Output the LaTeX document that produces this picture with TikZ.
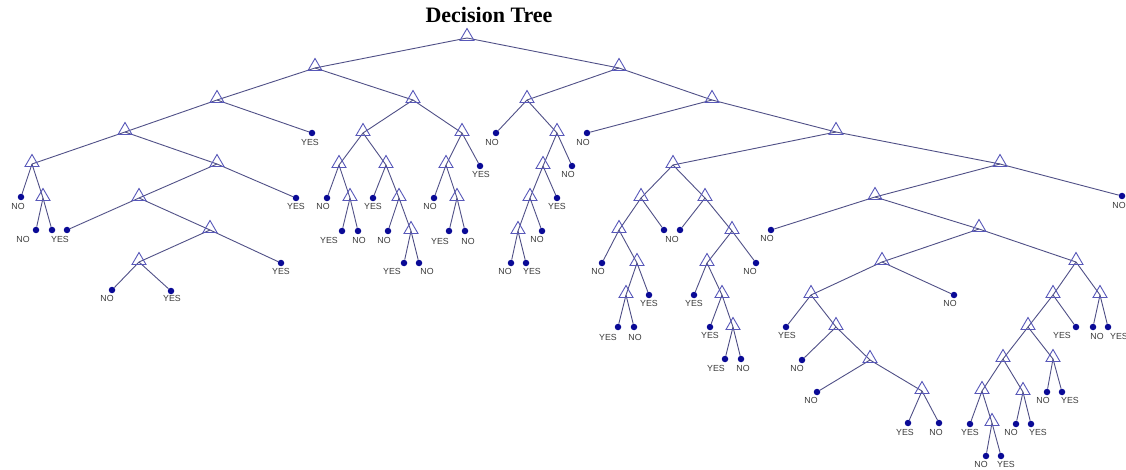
\documentclass[tikz,border=0pt]{standalone}
\usepackage{fontspec}
\setmainfont{Liberation Serif}
\newfontfamily\labfont{Liberation Sans}
\definecolor{edgecol}{RGB}{80,80,135}
\definecolor{tricol}{RGB}{88,88,185}
\definecolor{dotcol}{RGB}{10,10,150}
\definecolor{labcol}{RGB}{60,60,60}
\tikzset{
  inner/.style={coordinate},
  leaf/.style={circle,fill=dotcol,draw=none,inner sep=0pt,minimum size=6.5pt},
  lab/.style={inner sep=0pt,text=labcol,font=\labfont\fontsize{8.8}{9}\selectfont},
  edge/.style={draw=edgecol,line width=0.9pt},
  tri/.style={draw=tricol,line width=0.9pt,line join=miter},
}
\begin{document}
\begin{tikzpicture}[x=1pt,y=-1pt]
\useasboundingbox (0,0) rectangle (1126,470);
\fill[white] (0,0) rectangle (1126,470);
\node (title) at (489,15) {\fontsize{22}{24}\selectfont\bfseries Decision Tree};
% internal nodes
\foreach \n/\x/\y in {
 r/467/38, a/315/68, b/619/68,
 a1/217/100, a2/413/100, a11/125/132, a111/32/164, a112/217/164,
 a1112/43/198, a1121/139/198, a11212/210/230, a112121/139/262,
 a21/363/133, a22/462/133, a211/339/165, a212/386/165, a2112/350/198,
 a2122/399/198, a21222/411/231, a221/446/165, a2212/457/198,
 b1/527/100, b2/712/100, b12/557/133, b121/543/166, b1211/530/198, b12111/518/231,
 b22/836/132, b221/673/165, b222/1000/164, b2211/641/198, b2212/705/198,
 b22111/619/230, b221112/637/263, b2211121/626/295,
 b22122/732/231, b221221/707/263, b2212212/722/295, b22122122/733/327,
 b2221/875/197, b22212/979/229, b222121/882/262, b2221211/811/295,
 b22212112/836/327, b222121122/870/360, b2221211222/922/391,
 b222122/1076/262, c1/1053/295, c2/1100/295, c11/1028/327,
 c111/1003/359, c112/1053/359, c1111/982/391, c1112/1023/392, c11112/992/423}
 {\node[inner] (\n) at (\x,\y) {};}
% leaves
\foreach \n/\x/\y in {
 la1/312/133, la111/21/197, la1112a/36/230, la1112b/52/230, la1121/67/230,
 la112/296/198, la11212/281/263, la112121a/112/290, la112121b/171/291,
 la211/327/198, la2112a/342/231, la2112b/358/231, la212/373/198,
 la2122/388/231, la21222a/404/263, la21222b/419/263, la22/480/166,
 la221/434/198, la2212a/449/231, la2212b/465/231,
 lb1/496/133, lb12/572/166, lb121/557/198, lb1211/542/231,
 lb12111a/511/263, lb12111b/526/263, lb2/587/133,
 lb2211/664/230, lb2212/680/230, lb22111/602/263, lb221112/649/295,
 lb2211121a/618/327, lb2211121b/634/327, lb22122/756/263,
 lb221221/694/295, lb2212212/710/327, lb22122122a/725/359, lb22122122b/741/359,
 lb222/1122/196, lb2221/771/230, lb222121/954/295, lb2221211/786/327,
 lb22212112/802/360, lb222121122/817/392, lb2221211222a/908/423, lb2221211222b/939/423,
 lc2a/1093/327, lc2b/1108/327, lc1/1076/327, lc112a/1047/392, lc112b/1062/392,
 lc1111/970/424, lc11112a/986/456, lc11112b/1001/456, lc1112a/1016/424, lc1112b/1031/424}
 {\node[leaf] (\n) at (\x,\y) {};}
% edges
\foreach \p/\c in {
 r/a, r/b, a/a1, a/a2, a1/a11, a1/la1, a11/a111, a11/a112,
 a111/la111, a111/a1112, a1112/la1112a, a1112/la1112b,
 a112/a1121, a112/la112, a1121/la1121, a1121/a11212,
 a11212/a112121, a11212/la11212, a112121/la112121a, a112121/la112121b,
 a2/a21, a2/a22, a21/a211, a21/a212, a211/la211, a211/a2112,
 a2112/la2112a, a2112/la2112b, a212/la212, a212/a2122,
 a2122/la2122, a2122/a21222, a21222/la21222a, a21222/la21222b,
 a22/a221, a22/la22, a221/la221, a221/a2212, a2212/la2212a, a2212/la2212b,
 b/b1, b/b2, b1/lb1, b1/b12, b12/b121, b12/lb12, b121/b1211, b121/lb121,
 b1211/b12111, b1211/lb1211, b12111/lb12111a, b12111/lb12111b,
 b2/lb2, b2/b22, b22/b221, b22/b222, b221/b2211, b221/b2212,
 b2211/b22111, b2211/lb2211, b2212/lb2212, b2212/b22122,
 b22111/lb22111, b22111/b221112, b221112/b2211121, b221112/lb221112,
 b2211121/lb2211121a, b2211121/lb2211121b,
 b22122/b221221, b22122/lb22122, b221221/lb221221, b221221/b2212212,
 b2212212/lb2212212, b2212212/b22122122, b22122122/lb22122122a, b22122122/lb22122122b,
 b222/b2221, b222/lb222, b2221/lb2221, b2221/b22212,
 b22212/b222121, b22212/b222122, b222121/b2221211, b222121/lb222121,
 b2221211/lb2221211, b2221211/b22212112, b22212112/lb22212112, b22212112/b222121122,
 b222121122/lb222121122, b222121122/b2221211222,
 b2221211222/lb2221211222a, b2221211222/lb2221211222b,
 b222122/c1, b222122/c2, c2/lc2a, c2/lc2b, c1/c11, c1/lc1,
 c11/c111, c11/c112, c112/lc112a, c112/lc112b, c111/c1111, c111/c1112,
 c1111/lc1111, c1111/c11112, c11112/lc11112a, c11112/lc11112b,
 c1112/lc1112a, c1112/lc1112b}
 {\draw[edge] (\p) -- (\c);}
% triangles
\foreach \n in {
 r, a, b, a1, a2, a11, a111, a112, a1112, a1121, a11212, a112121,
 a21, a22, a211, a212, a2112, a2122, a21222, a221, a2212,
 b1, b2, b12, b121, b1211, b12111, b22, b221, b222, b2211, b2212,
 b22111, b221112, b2211121, b22122, b221221, b2212212, b22122122,
 b2221, b22212, b222121, b2221211, b22212112, b222121122, b2221211222,
 b222122, c1, c2, c11, c111, c112, c1111, c1112, c11112}
 {\draw[tri] (\n) ++(-7,2.5) -- ++(14,0) -- ++(-7,-12) -- cycle;}
% labels
\foreach \n/\x/\y/\t in {
 t1/310/142/YES, t2/18/206/NO, t3/23/239/NO, t4/60/239/YES,
 t5/296/206/YES, t6/281/271/YES, t7/107/298/NO, t8/172/298/YES,
 t9/323/206/NO, t10/329/240/YES, t11/359/240/NO, t12/373/206/YES,
 t13/384/240/NO, t14/392/271/YES, t15/427/271/NO, t16/481/174/YES,
 t17/430/206/NO, t18/440/241/YES, t19/468/241/NO,
 t20/492/142/NO, t21/568/174/NO, t22/557/206/YES, t23/537/239/NO,
 t24/505/271/NO, t25/532/271/YES, t26/583/142/NO,
 t27/672/239/NO, t28/598/271/NO, t29/649/303/YES, t30/608/337/YES, t31/635/337/NO,
 t32/750/271/NO, t33/694/303/YES, t34/710/335/YES, t35/716/368/YES, t36/743/368/NO,
 t37/1119/205/NO, t38/767/238/NO, t39/950/303/NO, t40/787/335/YES,
 t41/797/368/NO, t42/811/400/NO, t43/905/432/YES, t44/936/432/NO,
 t45/1097/336/NO, t46/1119/336/YES, t47/1062/335/YES,
 t48/1043/400/NO, t49/1070/400/YES, t50/970/432/YES,
 t51/981/464/NO, t52/1006/464/YES, t53/1011/432/NO, t54/1038/432/YES}
 {\node[lab] (\n) at (\x,\y) {\t};}
\end{tikzpicture}
\end{document}
